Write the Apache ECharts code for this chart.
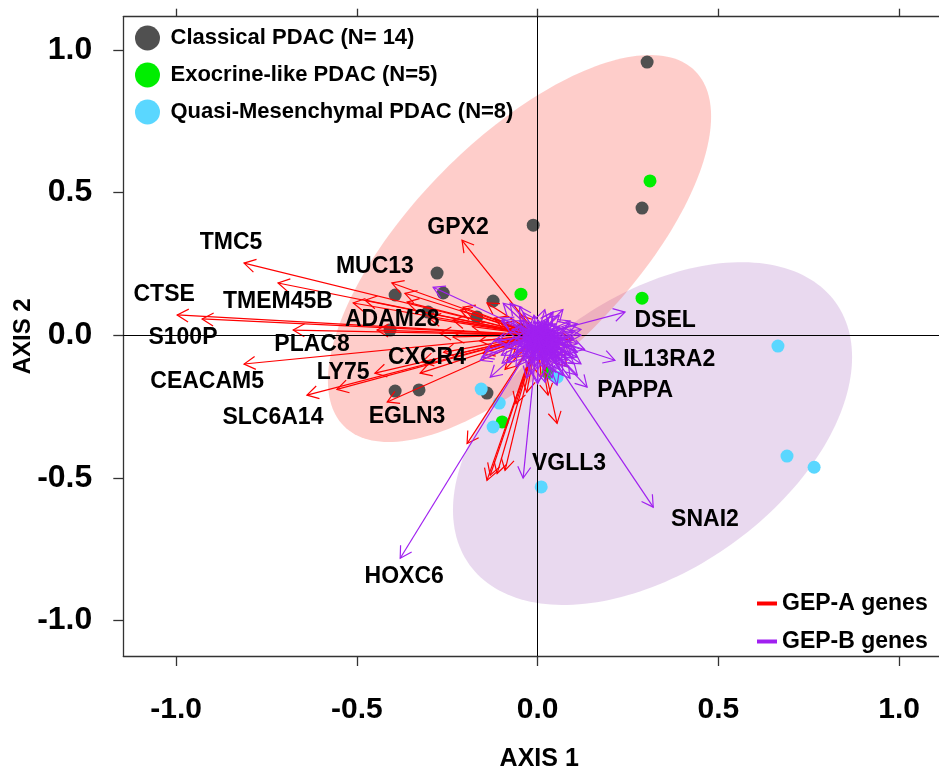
<!DOCTYPE html>
<html><head><meta charset="utf-8">
<script src="https://cdn.jsdelivr.net/npm/echarts@6/dist/echarts.min.js"></script>
<style>html,body{margin:0;padding:0;background:#fff}#c{width:939px;height:768px}</style>
</head><body><div id="c"></div>
<script>
// ---- data ----
const xTicks = [-1.0, -0.5, 0.0, 0.5, 1.0];
const yTicks = [-1.0, -0.5, 0.0, 0.5, 1.0];

const classical = [[0.303,0.958],[0.289,0.446],[-0.012,0.386],[-0.278,0.218],[-0.261,0.148],
  [-0.394,0.141],[-0.123,0.120],[-0.168,0.064],[-0.303,0.081],[-0.408,0.018],
  [-0.394,-0.196],[-0.328,-0.192],[-0.140,-0.203],[-0.048,0.018]];
const exocrine = [[0.311,0.541],[0.289,0.130],[-0.046,0.144],[0.029,-0.132],[-0.098,-0.304]];
const quasiMes = [[0.665,-0.038],[0.690,-0.424],[0.765,-0.463],[0.010,-0.532],
  [-0.156,-0.189],[-0.106,-0.238],[-0.123,-0.322],[0.054,-0.147]];

// ellipses: centre, first conjugate semi-axis, second conjugate semi-axis (data units)
const ellipseClassical = [-0.050, 0.304, 0.530, 0.463, 0.0, -0.496];
const ellipseQM = [0.318, -0.345, 0.552, 0.268, 0.0, -0.538];

// arrow tips (arrows start at origin)
const gepA = [[-0.812,0.253],[-0.718,0.183],[-0.997,0.071],[-0.928,0.057],[-0.676,0.018],
  [-0.812,-0.101],[-0.638,-0.210],[-0.450,-0.133],[-0.416,-0.234],[-0.209,0.333],
  [-0.403,0.183],[-0.510,0.113],[-0.555,-0.190],[-0.477,0.123],[-0.367,0.147],
  [-0.444,0.018],[-0.325,-0.133],[-0.361,0.116],[-0.234,0.053],[-0.234,-0.006],
  [-0.214,0.088],[-0.140,0.113],[-0.151,-0.064],[-0.320,-0.094],[-0.270,0.007],
  [-0.095,-0.041],[-0.300,0.060],[-0.180,0.030],[-0.120,0.060],[-0.160,-0.020],
  [-0.260,-0.060],[-0.206,0.098],[-0.100,0.040],[-0.050,0.070],[-0.070,-0.080],
  [-0.140,-0.509],[-0.131,-0.491],[-0.112,-0.485],[-0.090,-0.474],[-0.195,-0.380],
  [0.054,-0.309],[0.029,-0.210],[0.095,-0.017],[0.082,-0.110],[-0.060,-0.240],
  [-0.030,-0.200],[0.010,-0.150],[-0.090,-0.120],[0.040,-0.060],[-0.030,-0.030]];
const gepB = [[0.242,0.081],[0.214,-0.088],[0.137,-0.182],[-0.040,-0.501],[0.320,-0.603],
  [-0.380,-0.782],[-0.289,0.168],
  [-0.076,0.112],[0.043,0.081],[-0.154,-0.077],[-0.131,-0.147],[-0.082,-0.095],
  [0.021,-0.165],[0.054,-0.175],[0.104,-0.053],[0.082,-0.088],[0.110,-0.140],
  [-0.100,0.050],[-0.050,0.100],[0.090,0.050],[0.120,0.020],[0.000,-0.170],
  [-0.030,-0.150],[0.070,0.090],[-0.120,-0.020],[-0.095,0.112],[-0.145,-0.053],
  [-0.159,-0.088],[-0.098,-0.098],[0.001,-0.165],[0.090,-0.151],[0.109,-0.077],
  [0.05,-0.02],[0.06,-0.05],[0.04,-0.07],[0.02,-0.08],[-0.01,-0.07],[-0.03,-0.05],
  [-0.04,-0.02],[-0.03,0.01],[-0.01,0.03],[0.02,0.03],[0.04,0.02],[0.06,0.00],
  [0.07,-0.03],[0.08,-0.06],[0.06,-0.09],[0.03,-0.10],[0.00,-0.09],[-0.02,-0.10],
  [0.01,-0.05],[0.03,-0.04],[0.05,-0.08],[0.09,-0.04],[0.08,-0.01],[0.07,0.02],
  [0.05,0.04],[0.03,0.06],[0.00,0.05],[-0.03,0.04],[-0.05,0.02],[-0.06,-0.01],
  [-0.05,-0.04],[-0.06,-0.07],[-0.04,-0.09],[0.02,-0.12],[0.05,-0.13],[0.08,-0.11],
  [0.10,-0.08],[0.11,-0.03],[0.10,0.01],[0.09,0.04],[0.04,0.08],[-0.01,0.07],
  [-0.07,0.05],[-0.08,0.01],[-0.09,-0.04],[-0.08,-0.08],[-0.06,-0.11],[-0.02,-0.13],
  [0.04,-0.15],[0.07,-0.14],[0.12,-0.10],[0.13,-0.05],[0.12,0.00],[0.11,0.04],
  [0.06,0.07],[0.02,0.09],[-0.04,0.08],[-0.10,0.06],[-0.11,-0.02],[-0.10,-0.07],
  [0.03,-0.02],[0.01,-0.03],[-0.02,-0.02],[0.02,0.01],[0.04,-0.01],
  [0.02,-0.01],[0.03,-0.03],[0.01,-0.02],[0.00,-0.04],[-0.01,-0.01],[-0.02,0.00],
  [0.00,0.02],[0.01,0.01],[0.03,0.00],[0.04,-0.02],[0.05,-0.04],[0.04,-0.05],
  [0.02,-0.06],[0.00,-0.06],[-0.02,-0.05],[-0.03,-0.03],[-0.02,0.02],[0.01,0.04],
  [0.03,0.03],[0.05,0.01],[0.06,-0.02],[0.06,-0.07],[0.03,-0.07],[0.01,-0.08],
  [-0.01,-0.09],[-0.04,-0.06],[-0.05,-0.03],[-0.04,0.00],[-0.02,0.04],[0.02,0.05],
  [0.04,0.04],[0.07,-0.01],[0.08,-0.04],[0.07,-0.07],[0.05,-0.10],[0.02,-0.10],
  [-0.01,-0.11],[-0.03,-0.08],[0.04,-0.12],[0.07,-0.10],[0.09,-0.07],[0.09,-0.02],
  [0.06,0.03],[0.03,0.05],[-0.01,0.05],[-0.05,0.05],[-0.07,0.02],[-0.07,-0.03],
  [-0.06,-0.06],[-0.03,-0.11],[0.00,-0.12],[0.06,-0.12],[0.10,-0.10],[0.11,-0.06],
  [0.10,-0.01],
  [0.015,-0.015],[0.025,-0.025],[0.035,-0.015],[0.035,-0.035],[0.025,-0.045],[0.015,-0.035],
  [0.005,-0.025],[-0.005,-0.015],[-0.015,-0.005],[-0.005,0.005],[0.005,0.015],[0.015,0.005],
  [0.025,0.015],[0.045,0.005],[0.045,-0.025],[0.045,-0.045],[0.035,-0.055],[0.015,-0.055],
  [-0.005,-0.045],[-0.025,-0.035],[-0.025,-0.015],[-0.015,0.015],[0.005,0.035],[0.025,0.035],
  [0.040,0.020],[0.055,-0.010],[0.055,-0.035],[0.050,-0.060],[0.030,-0.065],[0.010,-0.070],
  [-0.010,-0.055],[-0.035,-0.045],[-0.040,-0.010],[-0.030,0.020],[-0.010,0.030],[0.060,-0.045],
  [0.065,-0.025],[0.020,-0.090],[0.040,-0.085],[-0.020,-0.075]];

const geneNames = ['TMC5','CTSE','S100P','CEACAM5','SLC6A14','TMEM45B','PLAC8','MUC13','ADAM28',
  'CXCR4','LY75','EGLN3','GPX2','DSEL','IL13RA2','PAPPA','VGLL3','SNAI2','HOXC6'];
const geneLabelX = [-0.848,-1.033,-0.981,-0.914,-0.732,-0.718,-0.624,-0.450,-0.402,
  -0.306,-0.538,-0.361,-0.220,0.353,0.364,0.270,0.087,0.463,-0.369];
const geneLabelY = [0.323,0.141,-0.010,-0.164,-0.290,0.116,-0.034,0.239,0.053,
  -0.077,-0.133,-0.287,0.376,0.050,-0.084,-0.193,-0.449,-0.648,-0.846];

const groupNames = ['Classical PDAC (N= 14)','Exocrine-like PDAC (N=5)','Quasi-Mesenchymal PDAC (N=8)'];
const geneSetNames = ['GEP-A genes','GEP-B genes'];

// ---- chart ----
const FONT = "'Liberation Sans', Arial, Helvetica, sans-serif";
const chart = echarts.init(document.getElementById('c'), null, {renderer: 'canvas'});

function ellipseRender(fill) {
  return function (params, api) {
    const cx = api.value(0), cy = api.value(1), ax = api.value(2), ay = api.value(3),
          bx = api.value(4), by = api.value(5);
    const pts = [];
    for (let i = 0; i < 200; i++) {
      const t = i / 200 * 2 * Math.PI;
      pts.push(api.coord([cx + ax * Math.cos(t) + bx * Math.sin(t), cy + ay * Math.cos(t) + by * Math.sin(t)]));
    }
    return {type: 'polygon', shape: {points: pts}, style: {fill: fill, stroke: null}};
  };
}
function arrowRender(color) {
  return function (params, api) {
    const o = api.coord([0, 0]);
    const p = api.coord([api.value(0), api.value(1)]);
    const ang = Math.atan2(p[1] - o[1], p[0] - o[0]);
    const L = 13, h = Math.PI / 6;
    const h1 = [p[0] - L * Math.cos(ang - h), p[1] - L * Math.sin(ang - h)];
    const h2 = [p[0] - L * Math.cos(ang + h), p[1] - L * Math.sin(ang + h)];
    return {type: 'group', children: [
      {type: 'line', shape: {x1: o[0], y1: o[1], x2: p[0], y2: p[1]}, style: {stroke: color, lineWidth: 1.2}},
      {type: 'polyline', shape: {points: [h1, p, h2]}, style: {stroke: color, lineWidth: 1.2, fill: null}}
    ]};
  };
}
function labelRender(params, api) {
  const p = api.coord([api.value(0), api.value(1)]);
  return {type: 'text', x: p[0], y: p[1], style: {
    text: geneNames[params.dataIndex], fill: '#000', align: 'center', verticalAlign: 'middle',
    font: "bold 23px 'Liberation Sans', Arial, sans-serif"}};
}

const boxLine = {show: true, lineStyle: {color: '#333', width: 1.3}};
const option = {
  animation: false,
  backgroundColor: '#fff',
  textStyle: {fontFamily: FONT},
  grid: {left: 123.3, top: 16.7, width: 831.8, height: 639.3, containLabel: false, outerBoundsMode: 'none'},
  xAxis: [{
    type: 'value', min: -1.146, max: 1.155, position: 'bottom',
    axisLine: Object.assign({onZero: false}, boxLine),
    axisTick: {show: true, inside: false, length: 10, customValues: xTicks, lineStyle: {color: '#333', width: 1.3}},
    axisLabel: {customValues: xTicks, margin: 39, fontSize: 30, fontWeight: 'bold', color: '#000', fontFamily: FONT,
      formatter: v => v.toFixed(1)},
    splitLine: {show: false},
    name: 'AXIS 1', nameLocation: 'middle', nameGap: 91, nameMoveOverlap: false,
    nameTextStyle: {fontSize: 25, fontWeight: 'bold', color: '#000', fontFamily: FONT}
  }, {
    type: 'value', min: -1.146, max: 1.155, position: 'top',
    axisLine: Object.assign({onZero: false}, boxLine),
    axisTick: {show: true, inside: false, length: 8, customValues: xTicks, lineStyle: {color: '#333', width: 1.3}},
    axisLabel: {show: false}, splitLine: {show: false}
  }],
  yAxis: [{
    type: 'value', min: -1.125, max: 1.117, position: 'left',
    axisLine: Object.assign({onZero: false}, boxLine),
    axisTick: {show: true, inside: false, length: 10, customValues: yTicks, lineStyle: {color: '#333', width: 1.3}},
    axisLabel: {customValues: yTicks, margin: 31, fontSize: 32, fontWeight: 'bold', color: '#000', fontFamily: FONT,
      formatter: v => v.toFixed(1)},
    splitLine: {show: false},
    name: 'AXIS 2', nameLocation: 'middle', nameGap: 88, nameRotate: 90, nameMoveOverlap: false,
    nameTextStyle: {fontSize: 24, fontWeight: 'bold', color: '#000', fontFamily: FONT}
  }],
  legend: [{
    data: groupNames, orient: 'vertical', left: 130, top: 20.5,
    icon: 'circle', itemWidth: 36, itemHeight: 25, itemGap: 12, selectedMode: false,
    textStyle: {fontSize: 22, fontWeight: 'bold', color: '#000', fontFamily: FONT}
  }, {
    data: geneSetNames, orient: 'vertical', left: 752, top: 587,
    icon: 'rect', itemWidth: 20, itemHeight: 4, itemGap: 15, selectedMode: false,
    textStyle: {fontSize: 23, fontWeight: 'bold', color: '#000', fontFamily: FONT}
  }],
  series: [
    {type: 'custom', name: 'QM ellipse', silent: true, z: 1, renderItem: ellipseRender('rgba(195,150,210,0.36)'),
      data: [ellipseQM], encode: {x: 0, y: 1}},
    {type: 'custom', name: 'Classical ellipse', silent: true, z: 1, renderItem: ellipseRender('rgba(250,60,50,0.26)'),
      data: [ellipseClassical], encode: {x: 0, y: 1}},
    {type: 'scatter', name: groupNames[0], data: classical, symbolSize: 13, z: 3,
      itemStyle: {color: '#505050', opacity: 1},
      markLine: {silent: true, symbol: ['none', 'none'], label: {show: false},
        lineStyle: {color: '#000', width: 1, type: 'solid'}, data: [{xAxis: 0}, {yAxis: 0}]}},
    {type: 'scatter', name: groupNames[1], data: exocrine, symbolSize: 13, z: 3, itemStyle: {color: '#00EE00', opacity: 1}},
    {type: 'scatter', name: groupNames[2], data: quasiMes, symbolSize: 13, z: 3, itemStyle: {color: '#5AD7FF', opacity: 1}},
    {type: 'custom', name: geneSetNames[0], z: 4, silent: true, itemStyle: {color: '#FF0000'},
      renderItem: arrowRender('#FF0000'), data: gepA},
    {type: 'custom', name: geneSetNames[1], z: 5, silent: true, itemStyle: {color: '#A020F0'},
      renderItem: arrowRender('#A020F0'), data: gepB},
    {type: 'custom', name: 'labels', z: 6, silent: true, renderItem: labelRender,
      data: geneNames.map((n, i) => [geneLabelX[i], geneLabelY[i]])}
  ]
};
chart.setOption(option);
</script></body></html>
